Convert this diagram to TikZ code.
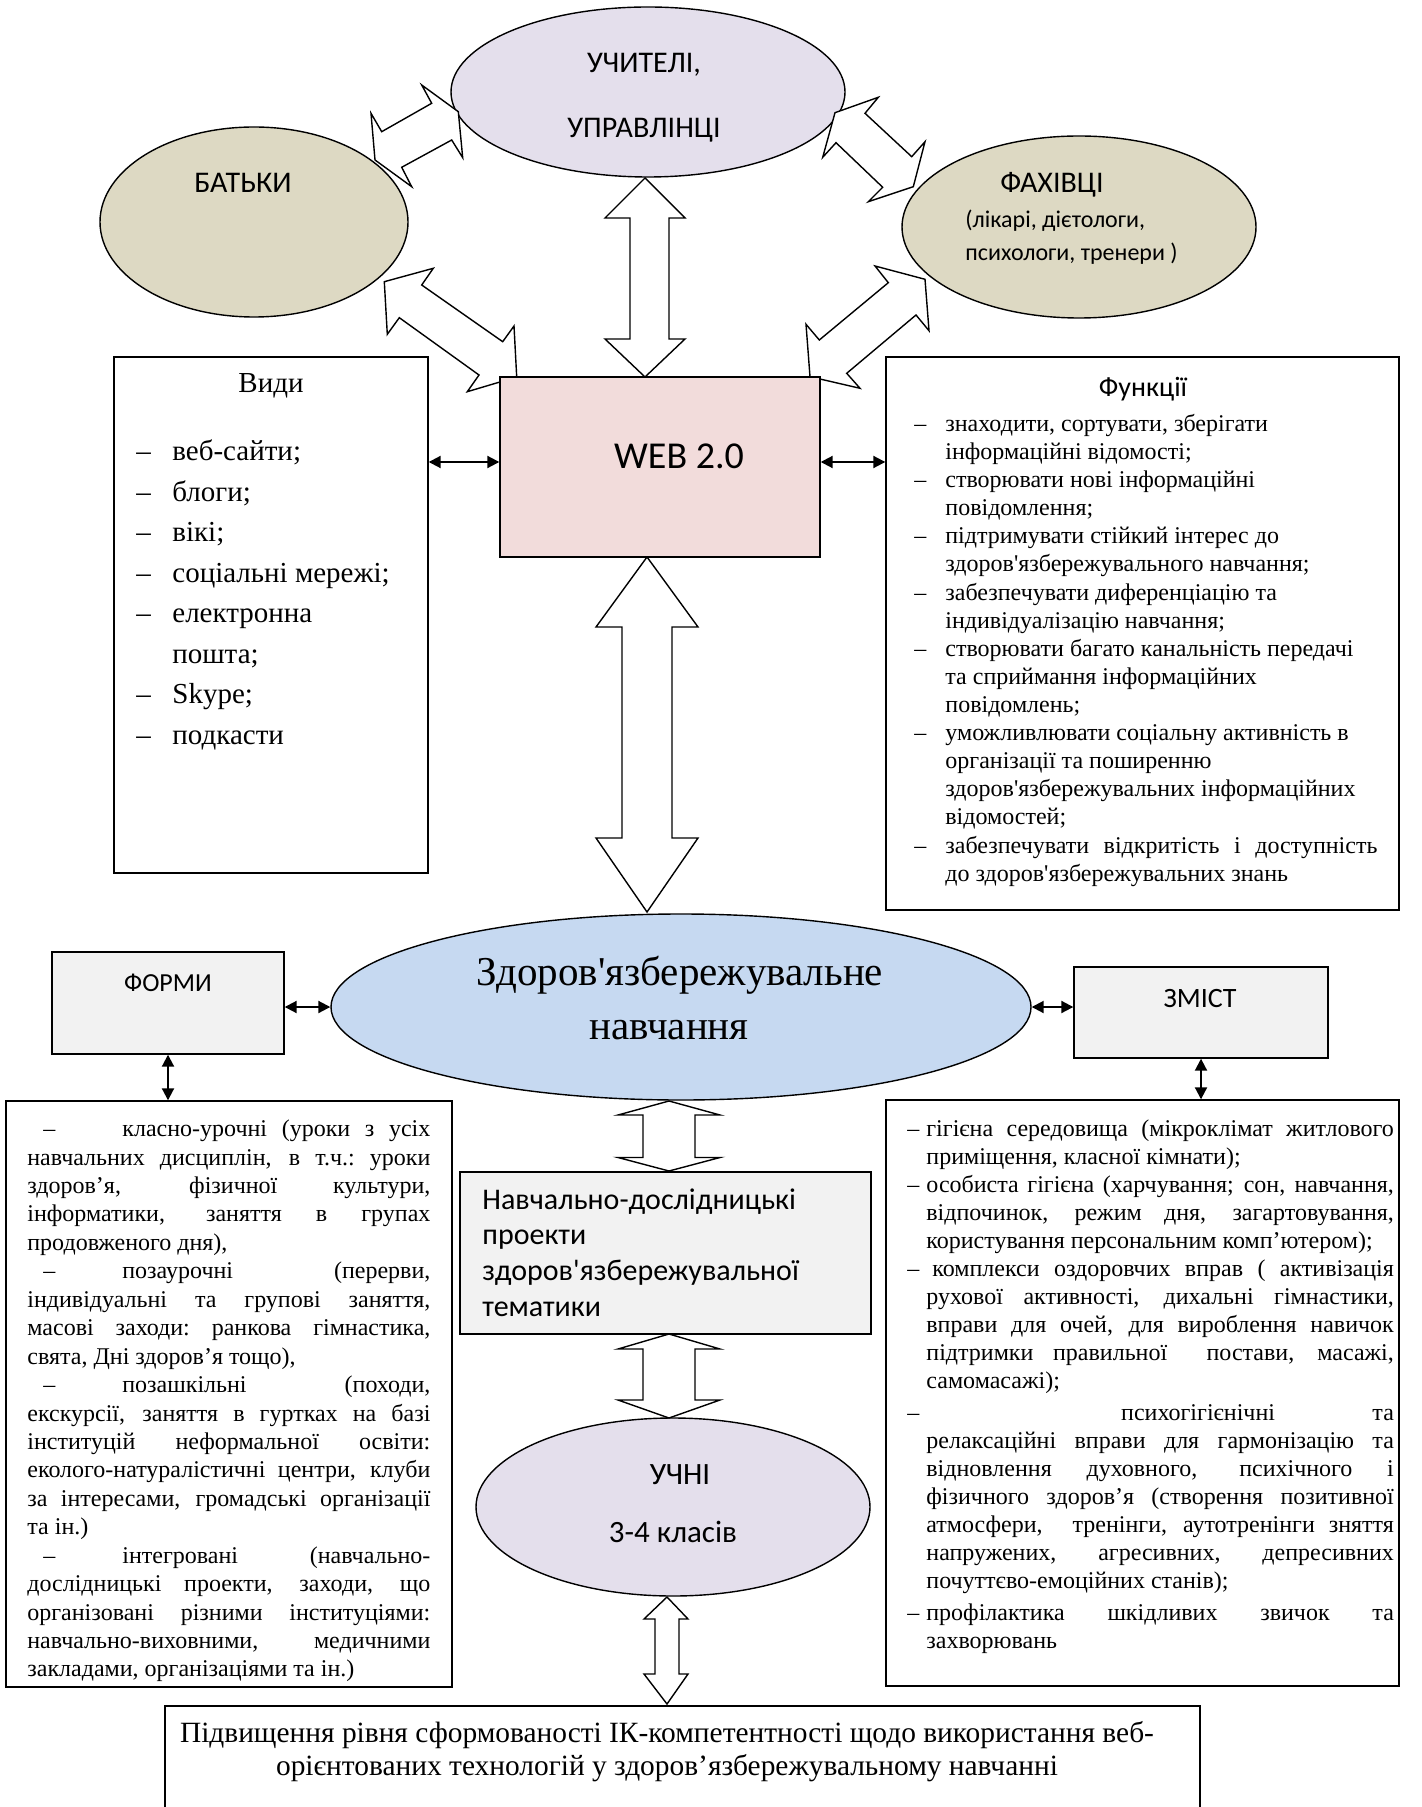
\documentclass[tikz,border=0pt]{standalone}
\usepackage{fontspec}
\usetikzlibrary{shapes.geometric,arrows.meta}
\newfontfamily\tnr{Liberation Serif}
\newfontfamily\clb{Carlito}
\definecolor{lav}{HTML}{E4DFEC}
\definecolor{khaki}{HTML}{DDD9C3}
\definecolor{pinkbox}{HTML}{F2DCDB}
\definecolor{bluell}{HTML}{C6D9F1}
\definecolor{grayb}{HTML}{F2F2F2}
% text block: #1 font, #2 width, #3 leading, #4 lines
\newcommand\Blk[4]{\vtop{#1\hsize=#2\relax\baselineskip=#3\relax\lineskiplimit=-60pt\relax\lineskip=0pt\relax\parindent=0pt\relax\spaceskip=.25em plus .8em minus .04em\relax\xspaceskip=\spaceskip #4}}
\newcommand\Jl[1]{\hbox to\hsize{#1}}
\newcommand\Rl[1]{\hbox to\hsize{#1\hfil}}
\newcommand\Dsh[1]{\makebox[#1][l]{–}}
\tikzset{
  ell/.style={ellipse, draw, line width=0.7pt, inner sep=0pt},
  boxn/.style={rectangle, draw, line width=0.7pt, inner sep=0pt},
  barrow/.style={draw, fill=white, line width=0.7pt, line join=miter},
  dbl/.style={{Triangle[length=6pt,width=6pt]}-{Triangle[length=6pt,width=6pt]}, line width=1pt},
  sanslbl/.style={inner sep=0pt, anchor=base, font=\clb\fontsize{15}{18}\selectfont},
  txtblk/.style={inner sep=0pt, anchor=base west},
}
\begin{document}
\begin{tikzpicture}[x=0.5pt,y=-0.5pt]
\useasboundingbox (0,0) rectangle (1421,1807);
\clip (0,0) rectangle (1421,1807);
\fill[white] (0,0) rectangle (1421,1807);
% ellipses
\node[ell, fill=lav, minimum width=197pt, minimum height=85pt] (teach) at (648,92) {};
\node[ell, fill=khaki, minimum width=154pt, minimum height=95pt] (parents) at (254,222) {};
\node[ell, fill=khaki, minimum width=177pt, minimum height=91pt] (spec) at (1079,227) {};
\node[ell, fill=bluell, minimum width=350pt, minimum height=93pt] (main) at (681,1007) {};
\node[ell, fill=lav, minimum width=197pt, minimum height=89pt] (pupils) at (673,1507) {};
% block arrows
\draw[barrow] (421.7,85) -- (458.3,111.7) -- (462.7,157.7) -- (451.7,140) -- (401.7,167.3) -- (411.7,186.7) -- (375,160) -- (371,113.3) -- (381.7,131.7) -- (431.7,103.3) -- cycle;
\draw[barrow] (835,112.7) -- (878.3,97.3) -- (865,113.3) -- (911.7,156.7) -- (925,141.7) -- (913.3,186.7) -- (868.3,201.7) -- (882.7,187.3) -- (836,142.7) -- (822.7,157.3) -- cycle;
\draw[barrow] (384.3,281.7) -- (433.3,268.3) -- (421.7,285) -- (502.7,341.7) -- (514,326) -- (516.7,377) -- (467.3,391.7) -- (479,375) -- (399.3,317.7) -- (387.3,334.3) -- cycle;
\draw[barrow] (925,279.3) -- (929,330.7) -- (916,315) -- (846.7,373.3) -- (860,388.3) -- (810,376.7) -- (806,324.3) -- (819.3,340) -- (888.3,282.7) -- (875,266) -- cycle;
\draw[barrow] (645,178) -- (685,218) -- (669,218) -- (669,339) -- (685,339) -- (645,377) -- (605,339) -- (630,339) -- (630,218) -- (605,218) -- cycle;
\draw[barrow] (647,557) -- (698,627) -- (672,627) -- (672,838) -- (698,838) -- (647,912) -- (596,838) -- (622,838) -- (622,627) -- (596,627) -- cycle;
\draw[barrow] (669,1101) -- (720,1115) -- (695,1115) -- (695,1157.5) -- (720,1157.5) -- (669,1171) -- (618,1157.5) -- (643,1157.5) -- (643,1115) -- (618,1115) -- cycle;
\draw[barrow] (669,1334) -- (720,1349) -- (695,1349) -- (695,1400) -- (720,1400) -- (669,1418) -- (618,1400) -- (643,1400) -- (643,1349) -- (618,1349) -- cycle;
\draw[barrow] (667,1597) -- (688,1619) -- (679,1619) -- (679,1674) -- (688,1674) -- (667,1704) -- (644,1674) -- (655,1674) -- (655,1619) -- (644,1619) -- cycle;
% boxes
\node[boxn, minimum width=157pt, minimum height=258pt] (vidy) at (271,615) {};
\node[boxn, fill=pinkbox, minimum width=160pt, minimum height=90pt] (web) at (660,467) {};
\node[boxn, minimum width=256.5pt, minimum height=276.5pt] (func) at (1142.5,633.5) {};
\node[boxn, fill=grayb, minimum width=116pt, minimum height=51pt] (forms) at (168,1003) {};
\node[boxn, fill=grayb, minimum width=127pt, minimum height=45.5pt] (zmist) at (1201,1012.5) {};
\node[boxn, minimum width=223pt, minimum height=293pt] (formlist) at (229,1394) {};
\node[boxn, minimum width=256.5pt, minimum height=293pt] (content) at (1142.5,1393) {};
\node[boxn, fill=grayb, minimum width=205.5pt, minimum height=81pt] (proj) at (665.5,1253) {};
\node[boxn, minimum width=517.5pt, minimum height=62pt] (result) at (682.5,1768) {};
% small arrows
\coordinate (ya) at (0,462);
\draw[dbl] (vidy.east |- ya) -- (web.west |- ya);
\draw[dbl] (web.east |- ya) -- (func.west |- ya);
\draw[dbl] (forms.east |- main.west) -- (main.west);
\draw[dbl] (main.east) -- (zmist.west |- main.east);
\draw[dbl] (forms.south) -- (forms.south |- formlist.north);
\draw[dbl] (zmist.south) -- (zmist.south |- content.north);
% labels
\node[sanslbl] (t1) at (644,72.7) {УЧИТЕЛІ,};
\node[sanslbl] (t2) at (644,137.7) {УПРАВЛІНЦІ};
\node[sanslbl] (t3) at (243,192.7) {БАТЬКИ};
\node[sanslbl] (t4) at (1052,192.7) {ФАХІВЦІ};
\node[sanslbl, anchor=base west, font=\clb\fontsize{12}{14}\selectfont] (t5) at (965,228) {(лікарі, дієтологи,};
\node[sanslbl, anchor=base west, font=\clb\fontsize{12}{14}\selectfont] (t6) at (965,261) {психологи, тренери )};
\node[sanslbl, font=\clb\fontsize{19}{23}\selectfont] (t7) at (679,469) {WEB 2.0};
\node[sanslbl, font=\clb\fontsize{14}{17}\selectfont] (t8) at (1143,396.5) {Функції};
\node[sanslbl, font=\tnr\fontsize{14.5}{17}\selectfont] (t9) at (271,393) {Види};
\node[sanslbl, font=\clb\fontsize{13}{16}\selectfont] (t10) at (168,991) {ФОРМИ};
\node[sanslbl, font=\clb\fontsize{14}{17}\selectfont] (t11) at (1200,1007) {ЗМІСТ};
\node[sanslbl, font=\tnr\fontsize{20.5}{24}\selectfont] (t12) at (680,985) {Здоров'язбережувальне};
\node[sanslbl, font=\tnr\fontsize{20.5}{24}\selectfont] (t13) at (669,1039) {навчання};
\node[sanslbl, font=\clb\fontsize{15.5}{18}\selectfont] (t14) at (680,1484) {УЧНІ};
\node[sanslbl, font=\clb\fontsize{15.5}{18}\selectfont] (t15) at (673,1542) {3-4 класів};
\node[sanslbl, font=\tnr\fontsize{14.7}{17}\selectfont] (t16) at (667,1742) {Підвищення рівня сформованості ІК-компетентності щодо використання веб-};
\node[sanslbl, font=\tnr\fontsize{14.7}{17}\selectfont] (t17) at (667,1775) {орієнтованих технологій у здоров’язбережувальному навчанні};
% text blocks
\node[txtblk] (vidytxt) at (136,461) {\Blk{\tnr\fontsize{14.5}{20.25}\selectfont}{150pt}{20.25pt}{%
\Rl{\Dsh{18pt}веб-сайти;}
\Rl{\Dsh{18pt}блоги;}
\Rl{\Dsh{18pt}вікі;}
\Rl{\Dsh{18pt}соціальні мережі;}
\Rl{\Dsh{18pt}електронна}
\Rl{\hspace*{18pt}пошта;}
\Rl{\Dsh{18pt}Skype;}
\Rl{\Dsh{18pt}подкасти}}};
\node[txtblk] (functxt) at (914,431.5) {\Blk{\tnr\fontsize{12}{14.05}\selectfont}{231.5pt}{14.05pt}{%
\Rl{\Dsh{15.5pt}знаходити, сортувати, зберігати}
\Rl{\hspace*{15.5pt}інформаційні відомості;}
\Rl{\Dsh{15.5pt}створювати нові інформаційні}
\Rl{\hspace*{15.5pt}повідомлення;}
\Rl{\Dsh{15.5pt}підтримувати стійкий інтерес до}
\Rl{\hspace*{15.5pt}здоров'язбережувального навчання;}
\Rl{\Dsh{15.5pt}забезпечувати диференціацію та}
\Rl{\hspace*{15.5pt}індивідуалізацію навчання;}
\Rl{\Dsh{15.5pt}створювати багато канальність передачі}
\Rl{\hspace*{15.5pt}та сприймання інформаційних}
\Rl{\hspace*{15.5pt}повідомлень;}
\Rl{\Dsh{15.5pt}уможливлювати соціальну активність в}
\Rl{\hspace*{15.5pt}організації та поширенню}
\Rl{\hspace*{15.5pt}здоров'язбережувальних інформаційних}
\Rl{\hspace*{15.5pt}відомостей;}
\Jl{\Dsh{15.5pt}забезпечувати відкритість і доступність}
\Rl{\hspace*{15.5pt}до здоров'язбережувальних знань}}};
\node[txtblk] (formtxt) at (27,1136.6) {\Blk{\tnr\fontsize{12}{14.2}\selectfont}{201.5pt}{14.22pt}{%
\Jl{\hspace*{8pt}\Dsh{39.5pt}класно-урочні (уроки з усіх}
\Jl{навчальних дисциплін, в т.ч.: уроки}
\Jl{здоров’я, фізичної культури,}
\Jl{інформатики, заняття в групах}
\Rl{продовженого дня),}
\Jl{\hspace*{8pt}\Dsh{39.5pt}позаурочні (перерви,}
\Jl{індивідуальні та групові заняття,}
\Jl{масові заходи: ранкова гімнастика,}
\Rl{свята, Дні здоров’я тощо),}
\Jl{\hspace*{8pt}\Dsh{39.5pt}позашкільні (походи,}
\Jl{екскурсії, заняття в гуртках на базі}
\Jl{інституцій неформальної освіти:}
\Jl{еколого-натуралістичні центри, клуби}
\Jl{за інтересами, громадські організації}
\Rl{та ін.)}
\Jl{\hspace*{8pt}\Dsh{39.5pt}інтегровані (навчально-}
\Jl{дослідницькі проекти, заходи, що}
\Jl{організовані різними інституціями:}
\Jl{навчально-виховними, медичними}
\Rl{закладами, організаціями та ін.)}}};
\node[txtblk] (conttxt) at (907,1136) {\Blk{\tnr\fontsize{12}{14.05}\selectfont}{243.25pt}{14.05pt}{%
\Jl{\Dsh{9.5pt}гігієна середовища (мікроклімат житлового}
\Rl{\hspace*{9.5pt}приміщення, класної кімнати);}
\Jl{\Dsh{9.5pt}особиста гігієна (харчування; сон, навчання,}
\Jl{\hspace*{9.5pt}відпочинок, режим дня, загартовування,}
\Rl{\hspace*{9.5pt}користування персональним комп’ютером);}
\Jl{\Dsh{9.5pt}\hspace*{3pt}комплекси оздоровчих вправ ( активізація}
\Jl{\hspace*{9.5pt}рухової активності, дихальні гімнастики,}
\Jl{\hspace*{9.5pt}вправи для очей, для вироблення навичок}
\Jl{\hspace*{9.5pt}підтримки правильної \ постави, масажі,}
\Rl{\hspace*{9.5pt}самомасажі);}
\vskip1.5pt
\Jl{\Dsh{9.5pt}\hspace{0pt plus 2fil}психогігієнічні\hspace{0pt plus 1fil}та}
\Jl{\hspace*{9.5pt}релаксаційні вправи для гармонізацію та}
\Jl{\hspace*{9.5pt}відновлення духовного, психічного і}
\Jl{\hspace*{9.5pt}фізичного здоров’я (створення позитивної}
\Jl{\hspace*{9.5pt}атмосфери, \ тренінги, аутотренінги зняття}
\Jl{\hspace*{9.5pt}напружених, агресивних, депресивних}
\Rl{\hspace*{9.5pt}почуттєво-емоційних станів);}
\vskip2pt
\Jl{\Dsh{9.5pt}профілактика шкідливих звичок та}
\Rl{\hspace*{9.5pt}захворювань}}};
\node[txtblk] (projtxt) at (482,1209) {\Blk{\clb\fontsize{15}{17.9}\selectfont}{190pt}{17.9pt}{%
\Rl{Навчально-дослідницькі}
\Rl{проекти}
\Rl{здоров'язбережувальної}
\Rl{тематики}}};
\end{tikzpicture}
\end{document}
